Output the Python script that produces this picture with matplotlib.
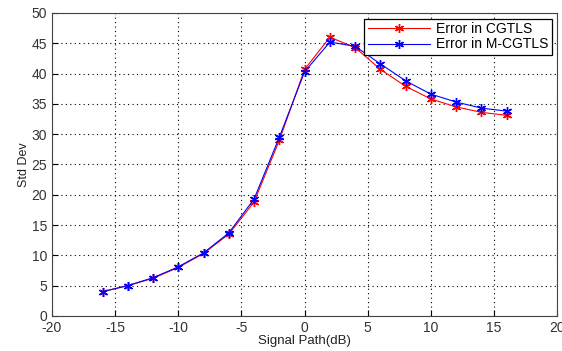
import numpy as np
import matplotlib.pyplot as plt

plt.rcParams['font.family'] = ['Liberation Sans', 'DejaVu Sans']
plt.rcParams['axes.unicode_minus'] = False

snr = [-16, -14, -12, -10, -8, -6, -4, -2, 0, 2, 4, 6, 8, 10, 12, 14, 16]
err_cgtls = [4.0, 5.0, 6.2, 8.0, 10.3, 13.5, 18.8, 29.0, 40.7, 46.0, 44.3, 40.7, 37.9, 35.8, 34.5, 33.6, 33.1]
err_mcgtls = [4.0, 5.0, 6.3, 8.1, 10.4, 13.7, 19.3, 29.5, 40.3, 45.2, 44.5, 41.6, 38.8, 36.6, 35.3, 34.3, 33.8]

fig = plt.figure(figsize=(5.62, 3.51), dpi=100)
ax = fig.add_axes([0.0925, 0.100, 0.899, 0.863])

# MATLAB style asterisk markers
star = (6, 2, 0)
ax.plot(snr, err_cgtls, color='red', marker=star, markersize=6.5, markeredgewidth=1.0,
        linewidth=0.8, label='Error in CGTLS')
ax.plot(snr, err_mcgtls, color='blue', marker=star, markersize=6.5, markeredgewidth=1.0,
        linewidth=0.8, label='Error in M-CGTLS')

ax.set_xlim(-20, 20)
ax.set_ylim(0, 50)
ax.set_xticks(np.arange(-20, 21, 5))
ax.set_yticks(np.arange(0, 51, 5))
ax.tick_params(direction='in', labelsize=10, length=4, labelcolor='#333333')
ax.grid(True, linestyle=(0, (1, 3)), color='black', linewidth=0.8)
ax.set_xlabel('Signal Path(dB)', fontsize=9.5, labelpad=0, color='#222222')
ax.set_ylabel('Std Dev', fontsize=9, labelpad=1, color='#222222')
for s in ax.spines.values():
    s.set_color('#444444')

leg = ax.legend(loc='upper right', fontsize=10, fancybox=False, framealpha=1,
                edgecolor='black', borderpad=0.25, handlelength=4.5, labelspacing=0.1,
                handletextpad=0.4, borderaxespad=0.4)
leg.get_frame().set_linewidth(0.9)

fig.savefig('out.png', dpi=100)
plt.close(fig)
